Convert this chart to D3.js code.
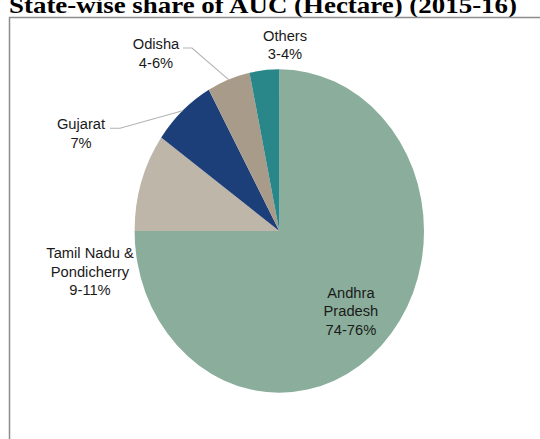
<!DOCTYPE html>
<html>
<head>
<meta charset="utf-8">
<script src="https://cdn.jsdelivr.net/npm/d3@7"></script>
<style>
  html, body { margin: 0; padding: 0; background: #fff; }
  svg { display: block; }
</style>
</head>
<body>
<svg id="chart" width="540" height="439"></svg>
<script>
// State-wise share of AUC, 2015-16 (per cent of hectares)
const states = ["Andhra Pradesh", "Tamil Nadu & Pondicherry", "Gujarat", "Odisha", "Others"];
const shares = [75, 9.8, 7.1, 4.8, 3.3];
const shareLabels = ["74-76%", "9-11%", "7%", "4-6%", "3-4%"];
const labelLines = [
  ["Andhra", "Pradesh"],
  ["Tamil Nadu &", "Pondicherry"],
  ["Gujarat"],
  ["Odisha"],
  ["Others"]
];
const colors = ["#8aae9b", "#bdb6a9", "#1c3f79", "#a89b89", "#29878a"];

const svg = d3.select("#chart");
const W = 540, H = 439;

// Title (partly above the visible area)
svg.append("text")
  .attr("x", 9).attr("y", 13)
  .attr("font-family", "'Liberation Serif', 'Times New Roman', serif")
  .attr("font-weight", "bold")
  .attr("font-size", 24)
  .attr("textLength", 508)
  .attr("lengthAdjust", "spacingAndGlyphs")
  .attr("fill", "#000")
  .text("State-wise share of AUC (Hectare)  (2015-16)");

// Chart frame
svg.append("rect")
  .attr("x", 9.5).attr("y", 17.5)
  .attr("width", W + 20).attr("height", H + 20)
  .attr("fill", "none")
  .attr("stroke", "#8c8c8c")
  .attr("stroke-width", 1.5);

// Pie geometry (drawn slightly taller than wide)
const cx = 279.3, cy = 231, rx = 144.7, ry = 161.7;
const sy = ry / rx;

const pie = d3.pie().sort(null).value(d => d);
const arcs = pie(shares);
const arc = d3.arc().innerRadius(0).outerRadius(rx);
const rimArc = d3.arc().innerRadius(rx).outerRadius(rx);
const innerArc = d3.arc().innerRadius(rx * 0.7).outerRadius(rx * 0.7);

const g = svg.append("g").attr("transform", `translate(${cx},${cy})`);
g.append("g").attr("transform", `scale(1,${sy})`)
  .selectAll("path")
  .data(arcs)
  .join("path")
  .attr("d", arc)
  .attr("fill", (d, i) => colors[i]);

// Label layout: inside labels sit on the slice centroid, outside labels at an offset
// from the pie centre with an optional elbow leader line to the rim.
const labelLayout = [
  { inside: true },
  { dx: -189.3, dy: 26.8 },
  { dx: -198.3, dy: -102, leader: { x0: -169.3, x1: -159.3, y: -102.7 } },
  { dx: -123.3, dy: -182, leader: { x0: -96.3, x1: -87.3, y: -183 } },
  { dx: 5.7, dy: -190.3 }
];

const fontSize = 14.7, lineH = 18.7;
const font = "'Liberation Sans', Arial, Helvetica, sans-serif";

arcs.forEach((d, i) => {
  const L = labelLayout[i];
  const lines = labelLines[i].concat([shareLabels[i]]);
  let x, firstBase;
  if (L.inside) {
    const c = innerArc.centroid(d);
    x = c[0];
    const yMid = c[1] * sy;
    firstBase = yMid - (lines.length - 1) * lineH / 2 + fontSize * 0.36;
  } else {
    x = L.dx;
    firstBase = L.dy;
  }
  if (L.leader) {
    const p = rimArc.centroid(d);
    g.append("path")
      .attr("d", d3.line()([[L.leader.x0, L.leader.y], [L.leader.x1, L.leader.y], [p[0], p[1] * sy]]))
      .attr("fill", "none")
      .attr("stroke", "#b3b3b3")
      .attr("stroke-width", 1.1);
  }
  const t = g.append("text")
    .attr("text-anchor", "middle")
    .attr("font-family", font)
    .attr("font-size", fontSize)
    .attr("fill", "#1a1a1a");
  lines.forEach((ln, k) => {
    t.append("tspan")
      .attr("x", x)
      .attr("y", firstBase + k * lineH)
      .text(ln);
  });
});
</script>
</body>
</html>
